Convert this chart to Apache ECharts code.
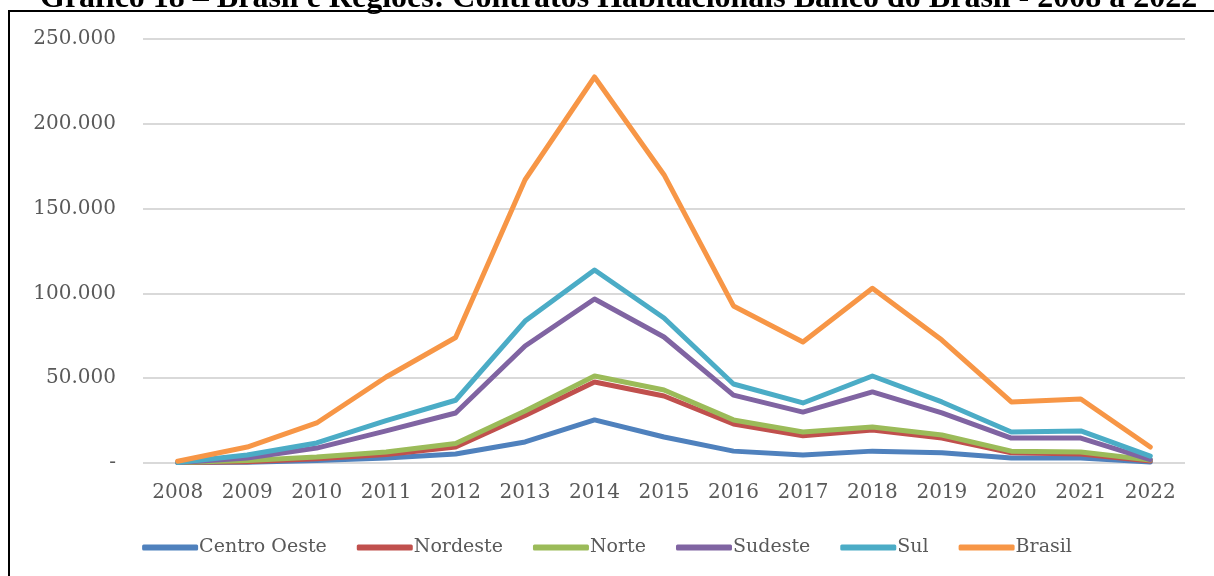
<!DOCTYPE html>
<html>
<head>
<meta charset="utf-8">
<script src="https://cdn.jsdelivr.net/npm/echarts@6/dist/echarts.min.js"></script>
<style>
html, body { margin: 0; padding: 0; background: #fff; }
#container { width: 1214px; height: 576px; }
</style>
</head>
<body>
<div id="container"></div>
<script>
const years = ['2008', '2009', '2010', '2011', '2012', '2013', '2014', '2015', '2016', '2017', '2018', '2019', '2020', '2021', '2022'];

// contratos por região
const centroOeste = [300, 500, 1500, 3000, 5300, 12400, 25400, 15300, 7000, 4700, 7000, 6000, 3000, 3000, 600];
const nordeste = [300, 800, 2500, 5000, 9400, 28000, 47800, 39500, 23000, 16000, 19500, 14700, 6000, 5300, 1200];
const norte = [300, 1500, 3500, 6500, 11500, 30700, 51300, 43000, 25400, 18300, 21200, 16500, 7000, 6500, 1800];
const sudeste = [300, 3000, 8800, 18900, 29500, 69000, 96700, 74300, 40000, 30000, 41900, 29500, 14700, 14700, 2000];
const sul = [300, 4700, 11800, 25000, 37000, 83700, 113800, 85500, 46600, 35400, 51300, 36000, 18300, 18900, 4000];
const brasil = [1000, 9400, 23600, 50700, 74000, 167000, 227600, 170000, 92600, 71300, 103000, 72500, 36000, 37700, 9400];

const FONT = 'DejaVu Serif';
const TXT = '#595959';

let dom = document.getElementById('container');
let myChart = echarts.init(dom);

function mkLine(name, data, color) {
    return {
        name: name,
        type: 'line',
        data: data,
        symbol: 'none',
        lineStyle: { width: 5, color: color, cap: 'round', join: 'round' },
        itemStyle: { color: color }
    };
}

option = {
    backgroundColor: '#fff',
    animation: false,
    graphic: [{
        type: 'rect',
        shape: { x: 9, y: 11, width: 1220, height: 600 },
        style: { fill: 'none', stroke: '#000', lineWidth: 2 },
        silent: true
    }, {
        type: 'text',
        left: 40,
        top: -17,
        style: {
            text: 'Gráfico 18 – Brasil e Regiões: Contratos Habitacionais Banco do Brasil - 2008 a 2022',
            font: 'bold 32px "Liberation Serif"',
            fill: '#000'
        }
    }],
    grid: { left: 143, right: 29, top: 39, bottom: 113 },
    legend: {
        bottom: 14,
        left: 'center',
        icon: 'roundRect',
        itemWidth: 56,
        itemHeight: 6,
        itemGap: 30,
        textStyle: { fontFamily: FONT, fontSize: 19, color: TXT, padding: [0, 0, 0, -4] },
        data: ['Centro Oeste', 'Nordeste', 'Norte', 'Sudeste', 'Sul', 'Brasil']
    },
    xAxis: {
        type: 'category',
        data: years,
        boundaryGap: true,
        axisLine: { show: false },
        axisTick: { show: false },
        axisLabel: { fontFamily: FONT, fontSize: 20, color: TXT, margin: 20 }
    },
    yAxis: {
        type: 'value',
        min: 0,
        max: 250000,
        interval: 50000,
        axisLine: { show: false },
        axisTick: { show: false },
        splitLine: { lineStyle: { color: '#d9d9d9', width: 2 } },
        axisLabel: {
            fontFamily: FONT, fontSize: 20, color: TXT, margin: 27,
            formatter: function (v) {
                if (v === 0) return '-';
                return String(v).replace(/\B(?=(\d{3})+(?!\d))/g, '.');
            }
        }
    },
    series: [
        mkLine('Centro Oeste', centroOeste, '#4F81BD'),
        mkLine('Nordeste', nordeste, '#C0504D'),
        mkLine('Norte', norte, '#9BBB59'),
        mkLine('Sudeste', sudeste, '#8064A2'),
        mkLine('Sul', sul, '#4BACC6'),
        mkLine('Brasil', brasil, '#F79646')
    ]
};

myChart.setOption(option, true);
window.addEventListener('resize', function () {
    myChart.resize();
});
</script>
</body>
</html>
